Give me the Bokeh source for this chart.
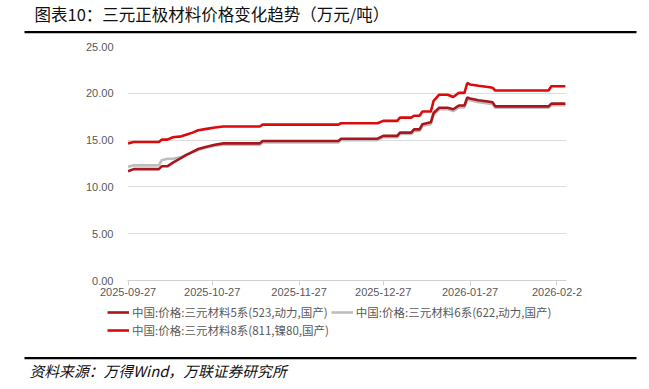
import pandas as pd
from bokeh.plotting import figure
from bokeh.layouts import column
from bokeh.models import (Range1d, FixedTicker, NumeralTickFormatter, Legend,
                          LegendItem)
from bokeh.core.properties import value
from bokeh.embed import file_html
from bokeh.resources import INLINE

# ---------------- data ----------------
dates = ["2025-09-27", "2025-09-29", "2025-10-08", "2025-10-09", "2025-10-11",
         "2025-10-13", "2025-10-16", "2025-10-18", "2025-10-20", "2025-10-22",
         "2025-10-25", "2025-10-28", "2025-10-31", "2025-11-13", "2025-11-14",
         "2025-12-11", "2025-12-12", "2025-12-25", "2025-12-27", "2026-01-01",
         "2026-01-02", "2026-01-06", "2026-01-07", "2026-01-09", "2026-01-10",
         "2026-01-13", "2026-01-14", "2026-01-16", "2026-01-19", "2026-01-21",
         "2026-01-23", "2026-01-25", "2026-01-26", "2026-01-27", "2026-01-30",
         "2026-02-03", "2026-02-04", "2026-02-05", "2026-02-24", "2026-02-25",
         "2026-03-02"]
s5 = [11.68, 11.9, 11.9, 12.2, 12.2, 12.6, 13.1, 13.45, 13.75, 14.05,
      14.3, 14.5, 14.65, 14.65, 14.9, 14.9, 15.15, 15.15, 15.45, 15.45,
      15.8, 15.8, 16.15, 16.15, 16.7, 16.9, 17.9, 18.45, 18.45, 18.3,
      18.7, 18.7, 19.55, 19.45, 19.25, 19.1, 19.05, 18.6, 18.6, 18.9,
      18.9]
s6 = [12.15, 12.3, 12.3, 12.85, 13.0, 13.0, 13.2, 13.45, 13.7, 13.95,
      14.2, 14.4, 14.5, 14.5, 14.75, 14.75, 15.0, 15.0, 15.3, 15.3,
      15.65, 15.65, 15.95, 16.0, 16.5, 16.7, 17.7, 18.3, 18.3, 18.1,
      18.5, 18.5, 19.35, 19.25, 19.05, 18.9, 18.85, 18.45, 18.45, 18.72,
      18.72]
s8 = [14.65, 14.8, 14.8, 15.05, 15.05, 15.3, 15.4, 15.6, 15.8, 16.05,
      16.2, 16.35, 16.45, 16.45, 16.65, 16.65, 16.8, 16.8, 17.05, 17.05,
      17.4, 17.4, 17.6, 17.6, 18.05, 18.05, 19.2, 19.85, 19.85, 19.6,
      20.05, 20.05, 21.1, 20.95, 20.8, 20.65, 20.6, 20.3, 20.3, 20.75,
      20.75]
series_names = ["中国:价格:三元材料5系(523,动力,国产)",
                "中国:价格:三元材料6系(622,动力,国产)",
                "中国:价格:三元材料8系(811,镍80,国产)"]
tick_dates = ["2025-09-27", "2025-10-27", "2025-11-27", "2025-12-27",
              "2026-01-27", "2026-02-27"]
tick_labels = ["2025-09-27", "2025-10-27", "2025-11-27", "2025-12-27",
               "2026-01-27", "2026-02-2"]
y_ticks = [0, 5, 10, 15, 20, 25]

title_text = "图表10：三元正极材料价格变化趋势（万元/吨）"
source_text = "资料来源：万得Wind，万联证券研究所"

# ---------------- styles ----------------
C5 = "#A8161E"
C6 = "#BDBDBD"
C8 = "#DC0A0A"
CJK = "Noto Sans CJK SC"
NUM = "Liberation Sans"
DAY = 86400000.0
W = 640
LW = 2.6


def ms(d):
    return pd.Timestamp(d).value / 1e6


def no_align(f):
    try:
        f.frame_align = False
    except Exception:
        pass


def strip(h):
    f = figure(width=W, height=h, output_backend="svg", toolbar_location=None,
               x_range=Range1d(0, W), y_range=Range1d(h, 0),
               x_axis_location=None, y_axis_location=None)
    f.min_border = 0
    f.min_border_left = 0
    f.min_border_right = 0
    f.min_border_top = 0
    f.min_border_bottom = 0
    f.grid.visible = False
    f.outline_line_color = None
    f.background_fill_color = "white"
    f.border_fill_color = "white"
    no_align(f)
    return f


# ---------------- title strip ----------------
top = strip(38)
top.text(x=[34], y=[13], text=[title_text], text_font=value(CJK),
         text_font_size="16.5px", text_baseline="middle", text_align="left",
         text_color="#111111")
top.quad(left=[24], right=[636], top=[30.5], bottom=[32.7],
         fill_color="black", line_color=None)

# ---------------- main chart ----------------
x = pd.to_datetime(dates)
p = figure(width=W, height=266, x_axis_type="datetime",
           output_backend="svg", toolbar_location=None,
           x_range=Range1d(ms(dates[0]) - 0.2 * DAY, ms(dates[-1]) + 0.4 * DAY),
           y_range=Range1d(y_ticks[0], y_ticks[-1]))
p.min_border_left = 127
p.min_border_right = 74
p.min_border_top = 8
p.min_border_bottom = 24
p.outline_line_color = None
p.background_fill_color = "white"
p.border_fill_color = "white"
no_align(p)

r6 = p.line(x, s6, line_color=C6, line_width=LW)
r5 = p.line(x, s5, line_color=C5, line_width=LW)
r8 = p.line(x, s8, line_color=C8, line_width=LW)

xa = p.xaxis[0]
xt = [ms(d) for d in tick_dates]
xa.ticker = FixedTicker(ticks=xt, minor_ticks=[])
xa.major_label_overrides = {t: l for t, l in zip(xt, tick_labels)}
xa.axis_line_color = "#D0D0D0"
xa.major_tick_line_color = "#D0D0D0"
xa.major_tick_out = 5
xa.major_tick_in = 0
xa.minor_tick_line_color = None
xa.major_label_standoff = 2
xa.major_label_text_font = NUM
xa.major_label_text_font_size = "11px"
xa.major_label_text_color = "#595959"

ya = p.yaxis[0]
ya.ticker = FixedTicker(ticks=y_ticks, minor_ticks=[])
ya.formatter = NumeralTickFormatter(format="0.00")
ya.axis_line_color = None
ya.major_tick_line_color = None
ya.minor_tick_line_color = None
ya.major_tick_out = 0
ya.major_label_standoff = 14
ya.major_label_text_font = NUM
ya.major_label_text_font_size = "11px"
ya.major_label_text_color = "#595959"

p.xgrid.grid_line_color = None
p.ygrid.grid_line_color = "#DCDCDC"
p.ygrid.grid_line_width = 1

# ---------------- legend + source strip ----------------
bot = strip(76)
k5 = bot.line(x=[-50, -40], y=[-50, -50], line_color=C5, line_width=LW)
k6 = bot.line(x=[-50, -40], y=[-50, -50], line_color=C6, line_width=LW)
k8 = bot.line(x=[-50, -40], y=[-50, -50], line_color=C8, line_width=LW)
legend = Legend(items=[LegendItem(label=series_names[0], renderers=[k5]),
                       LegendItem(label=series_names[1], renderers=[k6]),
                       LegendItem(label=series_names[2], renderers=[k8])],
                location=(107, 42), orientation="horizontal", ncols=2,
                glyph_width=22, glyph_height=16, label_height=16,
                label_standoff=3, spacing=2, padding=0, margin=0,
                border_line_color=None, background_fill_alpha=0,
                label_text_font=CJK, label_text_font_size="11.5px",
                label_text_color="#595959")
bot.add_layout(legend)
bot.quad(left=[24], right=[636], top=[52.5], bottom=[54.7],
         fill_color="black", line_color=None)
bot.text(x=[29], y=[66], text=[source_text], text_font=value(CJK),
         text_font_size="14.8px", text_font_style="italic",
         text_baseline="middle", text_align="left", text_color="#111111")

layout = column(top, p, bot, spacing=0)
open("out.html", "w").write(file_html(layout, INLINE))
